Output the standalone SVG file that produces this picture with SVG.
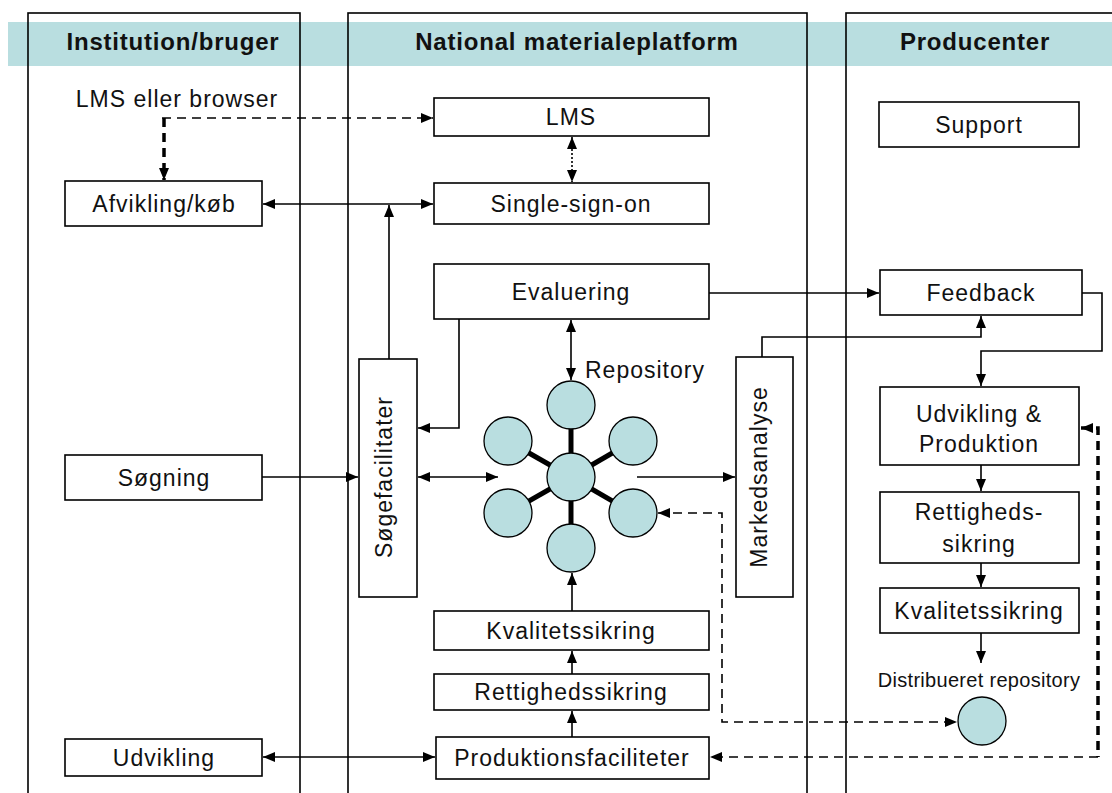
<svg xmlns="http://www.w3.org/2000/svg" width="1112" height="793" viewBox="0 0 1112 793">
<style>
.bg{fill:#ffffff}
.band{fill:#b9dee0}
.lane{fill:none;stroke:#000;stroke-width:1.6}
.box{fill:#fff;stroke:#000;stroke-width:1.6}
.t{font-family:"Liberation Sans",Arial,sans-serif;font-size:23px;letter-spacing:1px;fill:#111;text-anchor:middle}
.h{font-weight:bold;font-size:24px;letter-spacing:0.8px}
.s{font-size:20px;letter-spacing:0.3px}
.c{fill:none;stroke:#000;stroke-width:1.6}
.d{stroke-dasharray:9 6}
.dt{stroke-dasharray:2 2}
.thick{stroke-width:3.5}
.circ{fill:#b9dee0;stroke:#000;stroke-width:1.3}
.spoke{stroke:#000;stroke-width:5}
</style>
<defs>
<marker id="ah" markerUnits="userSpaceOnUse" markerWidth="12" markerHeight="10" refX="12" refY="5" orient="auto-start-reverse">
<path d="M0,0 L12,5 L0,10 Z" fill="#000"/>
</marker>
</defs>
<rect class="bg" x="0" y="0" width="1112" height="793"/>
<g id="header">
<rect class="band" x="8" y="22" width="1104" height="44"/>
<rect class="lane" x="28" y="13" width="272" height="800"/>
<rect class="lane" x="348" y="13" width="459" height="800"/>
<rect class="lane" x="846" y="13" width="300" height="800"/>
<text class="t h" x="173" y="50">Institution/bruger</text>
<text class="t h" x="577" y="50">National materialeplatform</text>
<text class="t h" x="975" y="50">Producenter</text>
</g>
<g id="connectors">
<path class="c d" d="M162,118 H433" marker-end="url(#ah)"/>
<path class="c d thick" d="M164,118 V180" marker-end="url(#ah)"/>
<path class="c" d="M263,204 H433" marker-start="url(#ah)" marker-end="url(#ah)"/>
<path class="c" d="M389,359 V205" marker-end="url(#ah)"/>
<path class="c dt" d="M572,137 V182" marker-start="url(#ah)" marker-end="url(#ah)"/>
<path class="c" d="M709,293 H879" marker-end="url(#ah)"/>
<path class="c" d="M1082,293 H1102 V351 H981 V386" marker-end="url(#ah)"/>
<path class="c" d="M762,357 V337 H981 V316" marker-end="url(#ah)"/>
<path class="c" d="M459,319 V428 H418" marker-end="url(#ah)"/>
<path class="c" d="M262,477 H358" marker-end="url(#ah)"/>
<path class="c" d="M418,477 H498" marker-start="url(#ah)" marker-end="url(#ah)"/>
<path class="c" d="M571,320 V380" marker-start="url(#ah)" marker-end="url(#ah)"/>
<path class="c" d="M637,477 H735" marker-end="url(#ah)"/>
<path class="c d" d="M658,513 H722 V722 H957" marker-start="url(#ah)" marker-end="url(#ah)"/>
<path class="c d thick" d="M1081,428 H1098 V757" marker-start="url(#ah)"/>
<path class="c d" d="M1098,757 H710" marker-end="url(#ah)"/>
<path class="c" d="M981,465 V491" marker-end="url(#ah)"/>
<path class="c" d="M981,563 V587" marker-end="url(#ah)"/>
<path class="c" d="M981,633 V663" marker-end="url(#ah)"/>
<path class="c" d="M572,611 V573" marker-end="url(#ah)"/>
<path class="c" d="M572,674 V651" marker-end="url(#ah)"/>
<path class="c" d="M572,737 V711" marker-end="url(#ah)"/>
<path class="c" d="M263,757 H435" marker-start="url(#ah)" marker-end="url(#ah)"/>
</g>
<g id="lms-browser">
<text class="t" x="177" y="107">LMS eller browser</text>
</g>
<g id="afvikling">
<rect class="box" x="65" y="181" width="197" height="45"/>
<text class="t" x="164" y="212">Afvikling/køb</text>
</g>
<g id="soegning">
<rect class="box" x="65" y="455" width="197" height="45"/>
<text class="t" x="164" y="486">Søgning</text>
</g>
<g id="udvikling">
<rect class="box" x="65" y="739" width="197" height="37"/>
<text class="t" x="164" y="766">Udvikling</text>
</g>
<g id="lms">
<rect class="box" x="434" y="98" width="275" height="38"/>
<text class="t" x="571" y="125">LMS</text>
</g>
<g id="sso">
<rect class="box" x="434" y="183" width="275" height="41"/>
<text class="t" x="571" y="212">Single-sign-on</text>
</g>
<g id="evaluering">
<rect class="box" x="434" y="264" width="275" height="55"/>
<text class="t" x="571" y="300">Evaluering</text>
</g>
<g id="soegefaciliteter">
<rect class="box" x="359" y="359" width="58" height="238"/>
<text class="t" transform="translate(392,477) rotate(-90)" x="0" y="0">Søgefacilitater</text>
</g>
<g id="markedsanalyse">
<rect class="box" x="736" y="357" width="57" height="240"/>
<text class="t" transform="translate(767,477) rotate(-90)" x="0" y="0">Markedsanalyse</text>
</g>
<g id="repository">
<line class="spoke" x1="571" y1="477" x2="571" y2="405"/>
<line class="spoke" x1="571" y1="477" x2="571" y2="548"/>
<line class="spoke" x1="571" y1="477" x2="508" y2="441"/>
<line class="spoke" x1="571" y1="477" x2="633" y2="441"/>
<line class="spoke" x1="571" y1="477" x2="508" y2="513"/>
<line class="spoke" x1="571" y1="477" x2="633" y2="513"/>
<circle class="circ" cx="571" cy="405" r="24"/>
<circle class="circ" cx="508" cy="441" r="24"/>
<circle class="circ" cx="633" cy="441" r="24"/>
<circle class="circ" cx="571" cy="477" r="24"/>
<circle class="circ" cx="508" cy="513" r="24"/>
<circle class="circ" cx="633" cy="513" r="24"/>
<circle class="circ" cx="571" cy="548" r="24"/>
<text class="t" x="585" y="378" style="text-anchor:start">Repository</text>
</g>
<g id="kvalitetssikring-platform">
<rect class="box" x="434" y="611" width="275" height="39"/>
<text class="t" x="571" y="639">Kvalitetssikring</text>
</g>
<g id="rettighedssikring-platform">
<rect class="box" x="434" y="674" width="275" height="36"/>
<text class="t" x="571" y="700">Rettighedssikring</text>
</g>
<g id="produktionsfaciliteter">
<rect class="box" x="436" y="737" width="273" height="42"/>
<text class="t" x="572" y="766">Produktionsfaciliteter</text>
</g>
<g id="support">
<rect class="box" x="879" y="102" width="200" height="45"/>
<text class="t" x="979" y="133">Support</text>
</g>
<g id="feedback">
<rect class="box" x="880" y="270" width="202" height="45"/>
<text class="t" x="981" y="301">Feedback</text>
</g>
<g id="udvikling-produktion">
<rect class="box" x="880" y="387" width="199" height="78"/>
<text class="t" x="979" y="422">Udvikling &amp;</text>
<text class="t" x="979" y="452">Produktion</text>
</g>
<g id="rettighedssikring-producent">
<rect class="box" x="880" y="492" width="199" height="71"/>
<text class="t" x="979" y="520">Rettigheds-</text>
<text class="t" x="979" y="552">sikring</text>
</g>
<g id="kvalitetssikring-producent">
<rect class="box" x="880" y="588" width="199" height="45"/>
<text class="t" x="979" y="619">Kvalitetssikring</text>
</g>
<g id="distribueret-repository">
<text class="t s" x="979" y="687">Distribueret repository</text>
<circle class="circ" cx="982" cy="721" r="24"/>
</g>
</svg>
